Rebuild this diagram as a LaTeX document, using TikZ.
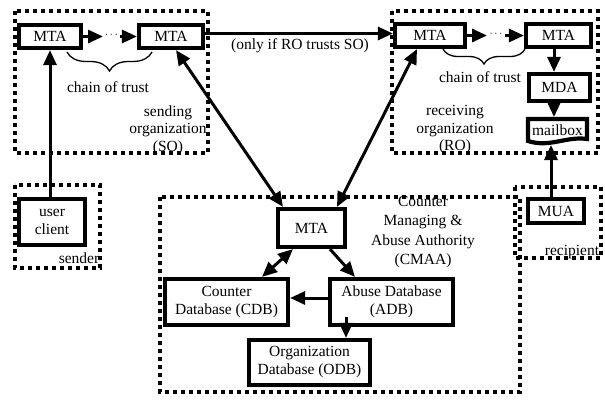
\documentclass[tikz,border=0pt]{standalone}
\usepackage{fontspec}
\setmainfont{Liberation Serif}
\usetikzlibrary{arrows.meta,decorations.pathreplacing,calc}
\begin{document}
\begin{tikzpicture}[x=1pt,y=-1pt,
  font=\fontsize{15.5}{18}\selectfont,
  box/.style={draw,line width=4.2pt,inner sep=0pt,align=center},
  zone/.style={draw,line width=3.6pt,dash pattern=on 3.8pt off 4.2pt},
  link/.style={line width=3pt,-{Triangle[length=15pt,width=13pt]}},
  dlink/.style={line width=3pt,{Triangle[length=15pt,width=13pt]}-{Triangle[length=15pt,width=13pt]}},
  trust/.style={decorate,decoration={brace,mirror,amplitude=#1},line width=1.3pt},
  lbl/.style={align=center,inner sep=0pt},
  ellip/.style={inner sep=0pt,font=\fontsize{11}{11}\selectfont}
]
\useasboundingbox (0,0) rectangle (605,399);

% organisational zones
\draw[zone] (15,11) rectangle (208,153);
\draw[zone] (392,11) rectangle (598,153);
\draw[zone] (15,185) rectangle (100,268);
\draw[zone] (515,187) rectangle (601,258);
\draw[zone] (160,197) rectangle (520,392);

% sending organization
\node[box,minimum width=62pt,minimum height=23pt] (mta1) at (50,36.5) {MTA};
\node[box,minimum width=64pt,minimum height=23pt] (mta2) at (171,36.5) {MTA};
\coordinate (sa1) at (103,36.5);
\coordinate (sa2) at (120,36.5);
\node[ellip] (sdots) at (111.5,35.5) {$\cdots$};
\draw[link] (mta1.east) -- (sa1);
\draw[link] (sa2) -- (mta2.west);
\coordinate (sb1) at (67,52);
\coordinate (sb2) at (152,52);
\draw[trust=19pt] (sb1) -- (sb2);
\node[lbl] (sctrust) at (108,87) {chain of trust};
\node[lbl,font=\fontsize{15.5}{17.5}\selectfont] (solbl) at (168,130) {sending\\organization\\(SO)};

% receiving organization
\node[box,minimum width=70pt,minimum height=23pt] (mta3) at (430,35.5) {MTA};
\node[box,minimum width=65pt,minimum height=23pt] (mta4) at (558.5,35.5) {MTA};
\coordinate (ra1) at (487,35.5);
\coordinate (ra2) at (505,35.5);
\node[ellip] (rdots) at (496,34.5) {$\cdots$};
\draw[link] (mta3.east) -- (ra1);
\draw[link] (ra2) -- (mta4.west);
\coordinate (rb1) at (443,49);
\coordinate (rb2) at (525,49);
\draw[trust=15pt] (rb1) -- (rb2);
\node[lbl] (rctrust) at (480,77) {chain of trust};
\node[lbl,font=\fontsize{15.5}{17.5}\selectfont] (rolbl) at (455,130) {receiving\\organization\\(RO)};
\node[box,minimum width=61pt,minimum height=27pt] (mda) at (559.5,87.5) {MDA};
\node[inner sep=0pt] (mbox) at (557.5,130) {mailbox};
\draw[line width=4.2pt,line join=miter] (528,119) -- (587,119) -- (587,139)
  .. controls (566,136) and (550,148) .. (528,141) -- cycle;
\coordinate (mtop) at (554,117);
\coordinate (mbot) at (551,145);
\draw[link] (mta4.south -| mtop) -- (mda.north -| mtop);
\draw[link] (mda.south -| mtop) -- (mtop);

% link between the organizations
\draw[link] (mta2.east |- 0,33.5) -- (mta3.west |- 0,33.5);
\node[lbl] (onlyif) at (300,46) {(only if RO trusts SO)};

% sender and recipient
\node[box,minimum width=66pt,minimum height=46pt] (client) at (52,222) {user\\client};
\node[lbl] (sndlbl) at (79,258) {sender};
\draw[link] (client.north -| mta1) -- (mta1.south);
\node[box,minimum width=56pt,minimum height=24pt] (mua) at (556,211) {MUA};
\node[lbl] (rcplbl) at (572,252) {recipient};
\draw[link] (mua.north -| mbot) -- (mbot);

% counter managing & abuse authority
\node[box,minimum width=67pt,minimum height=38pt] (cmta) at (311.5,228) {MTA};
\node[lbl,font=\fontsize{15.5}{19.3}\selectfont] (cmaalbl) at (423,232) {Counter\\Managing \&\\Abuse Authority\\(CMAA)};
\node[box,minimum width=123pt,minimum height=46pt] (cdb) at (226.5,302) {Counter\\Database (CDB)};
\node[box,minimum width=123pt,minimum height=46pt] (adb) at (391.5,302) {Abuse Database\\(ADB)};
\node[box,minimum width=121pt,minimum height=45pt] (odb) at (309.5,362.5) {Organization\\Database (ODB)};

\draw[dlink] ($(mta2.south)+(5,0)$) -- ($(cmta.north)+(-28.5,0)$);
\draw[dlink] ($(mta3.south)+(-13,0)$) -- ($(cmta.north)+(25.5,0)$);
\draw[dlink] ($(cmta.south)+(-18.5,0)$) -- ($(cdb.north)+(35.5,0)$);
\draw[link] ($(cmta.south)+(18.5,0)$) -- ($(adb.north)+(-36.5,0)$);
\draw[link] ($(adb.west)+(0,-4)$) -- ($(cdb.east)+(0,-4)$);
\draw[link] ($(adb.south)+(-45.5,-10)$) -- ($(odb.north)+(36.5,0)$);
\end{tikzpicture}
\end{document}
